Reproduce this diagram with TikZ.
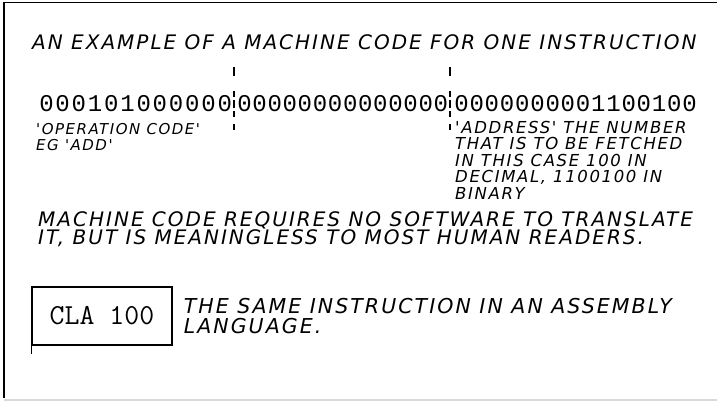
\documentclass[tikz,border=0pt]{standalone}
\usepackage{fontspec}
\setmainfont{DejaVu Sans}
\newfontfamily\handfont[LetterSpace=10]{DejaVu Sans}
\newfontfamily\bitfont{Liberation Mono}
\usetikzlibrary{positioning}

\begin{document}
\begin{tikzpicture}
  [x=1pt,y=-1pt,
   bigtext/.style={font=\handfont\itshape\fontsize{20}{16}\selectfont,inner sep=0pt,align=left,anchor=west},
   smalltext/.style={font=\handfont\itshape\fontsize{15}{16.5}\selectfont,inner sep=0pt,align=left,anchor=west},
   bit/.style={font=\bitfont\fontsize{24}{24}\selectfont,inner sep=0pt},
   divider/.style={line width=1.5pt,dash pattern=on 9pt off 15pt on 6pt off 3pt on 8pt off 3pt on 6pt off 7pt on 6pt}]
  \useasboundingbox (0,0) rectangle (717,405);

  % frame of the page
  \draw[line width=1.5pt] (717,2.5) -- (4,2.5) -- (4,398);
  \draw[gray!30,line width=2pt] (4,400) -- (717,400);

  \node[bigtext] (title) at (32,42) {AN EXAMPLE OF A MACHINE CODE FOR ONE INSTRUCTION};

  % the instruction word, in three fields
  \foreach \d [count=\i] in {0,0,0,1,0,1,0,0,0,0,0,0}
    \node[bit] (op\i) at ({46.5+16.2*(\i-1)},104) {\d};
  \foreach \d [count=\i] in {0,0,0,0,0,0,0,0,0,0,0,0,0,0}
    \node[bit] (mid\i) at ({244.5+15.1*(\i-1)},104) {\d};
  \foreach \d [count=\i] in {0,0,0,0,0,0,0,0,0,1,1,0,0,1,0,0}
    \node[bit] (adr\i) at ({461.5+15.2*(\i-1)},104) {\d};

  \coordinate (cut1top) at (234,67);
  \coordinate (cut1bot) at (234,130);
  \coordinate (cut2top) at (450,67);
  \coordinate (cut2bot) at (450,130);
  \draw[divider] (cut1top) -- (cut1bot);
  \draw[divider] (cut2top) -- (cut2bot);

  \node[smalltext] (opnote) at (36,129) {'OPERATION CODE'};
  \node[smalltext] (egnote) at (36,145) {EG 'ADD'};

  \node[smalltext,font=\handfont\itshape\fontsize{16.5}{16.5}\selectfont,anchor=north west] (adrnote) at (455,121)
    {'ADDRESS' THE NUMBER\\THAT IS TO BE FETCHED\\IN THIS CASE 100 IN\\DECIMAL, 1100100 IN\\BINARY};

  \node[bigtext] (remark) at (38,229)
    {MACHINE CODE REQUIRES NO SOFTWARE TO TRANSLATE\\IT, BUT IS MEANINGLESS TO MOST HUMAN READERS.};

  % the same instruction, assembly form
  \node[draw,line width=1.4pt,minimum width=140pt,minimum height=58pt,
        font=\ttfamily\fontsize{29}{29}\selectfont] (cla) at (102,316) {CLA 100};
  \draw[line width=1.4pt] (cla.south west) -- ++(0,8);
  \node[bigtext,font=\handfont\itshape\fontsize{20.5}{19.5}\selectfont,right=11pt of cla] (same)
    {THE SAME INSTRUCTION IN AN ASSEMBLY\\LANGUAGE.};
\end{tikzpicture}
\end{document}
